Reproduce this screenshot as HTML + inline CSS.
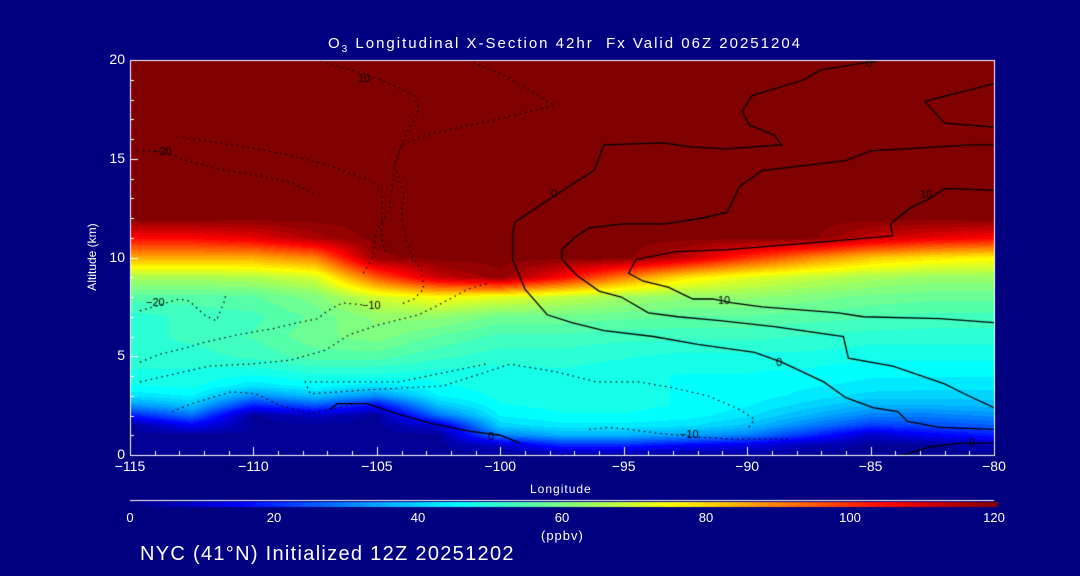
<!DOCTYPE html>
<html><head><meta charset="utf-8"><style>
html,body{margin:0;padding:0;background:#000080;}
#wrap{position:relative;width:1080px;height:576px;background:#000080;overflow:hidden;font-family:"Liberation Sans",sans-serif;color:#fff;}
canvas{position:absolute;left:0;top:0;}
.t{position:absolute;white-space:nowrap;color:#fff;}
</style></head><body>
<div id="wrap">
<canvas id="cv" width="1080" height="576"></canvas>
<div class="t" style="left:328px;top:35px;font-size:15px;letter-spacing:2px;">O<sub style="font-size:10px;">3</sub> Longitudinal X-Section 42hr&nbsp; Fx Valid 06Z 20251204</div>
<div class="t" style="left:52px;top:250px;font-size:12px;transform:rotate(-90deg);transform-origin:center;width:80px;text-align:center;">Altitude (km)</div>
<div class="t" style="left:530px;top:482px;font-size:12px;letter-spacing:1px;">Longitude</div>
<div class="t" style="left:541px;top:528px;font-size:13px;letter-spacing:1px;">(ppbv)</div>
<div class="t" style="left:140px;top:543px;font-size:20px;letter-spacing:1.3px;">NYC (41°N) Initialized 12Z 20251202</div>
<div id="labels"></div>
</div>
<script>
const lons=[-115,-112.5,-110,-107.5,-105,-102.5,-100,-97.5,-95,-92.5,-90,-87.5,-85,-82.5,-80];
const alts=[0,0.5,1,1.5,2,2.5,3,3.5,4,5,6,7,8,9,10,11,12,13,14,15,16,17,18,19,20];
const c0=[3,3,3,3,18,32,42,46,48,50,50,50,55,65,85,105,120,120,120,120,120,120,120,120,120];
const c1=[3,3,3,14,28,38,44,47,48,50,52,52,55,65,85,105,120,120,120,120,120,120,120,120,120];
const c2=[3,3,3,3,3,18,32,42,46,52,54,53,56,66,85,108,120,120,120,120,120,120,120,120,120];
const c3=[3,3,3,3,8,25,38,45,48,55,58,57,60,70,90,115,120,120,120,120,120,120,120,120,120];
const c4=[3,3,3,3,3,15,32,42,48,55,60,62,70,95,118,120,120,120,120,120,120,120,120,120,120];
const c5=[3,3,3,10,28,38,44,46,47,52,56,62,75,112,120,120,120,120,120,120,120,120,120,120,120];
const c6=[3,8,30,40,44,46,47,47,47,50,53,58,72,118,120,120,120,120,120,120,120,120,120,120,120];
const c7=[3,20,36,43,46,47,47,47,48,50,53,58,68,105,120,120,120,120,120,120,120,120,120,120,120];
const c8=[3,20,36,43,46,47,47,47,47,49,52,57,64,90,120,120,120,120,120,120,120,120,120,120,120];
const c9=[3,15,34,42,45,46,46,46,46,48,52,56,62,78,112,120,120,120,120,120,120,120,120,120,120];
const c10=[3,12,30,38,42,44,45,45,46,48,52,56,62,72,100,120,120,120,120,120,120,120,120,120,120];
const c11=[3,6,20,30,36,40,43,44,45,48,51,55,60,68,90,120,120,120,120,120,120,120,120,120,120];
const c12=[3,3,8,22,30,36,40,43,44,47,50,54,58,65,82,112,120,120,120,120,120,120,120,120,120];
const c13=[3,3,14,24,30,36,40,42,44,47,50,53,57,63,78,108,120,120,120,120,120,120,120,120,120];
const c14=[3,6,18,26,32,37,40,42,44,47,50,53,57,63,76,105,120,120,120,120,120,120,120,120,120];
const grid=[c0,c1,c2,c3,c4,c5,c6,c7,c8,c9,c10,c11,c12,c13,c14];
const xTicks=[-115,-110,-105,-100,-95,-90,-85,-80];
const xTickLabels=["\u2212115","\u2212110","\u2212105","\u2212100","\u221295","\u221290","\u221285","\u221280"];
const yTicks=[0,5,10,15,20];
const cbTicks=[0,20,40,60,80,100,120];
const ctrA=[[-84,20.1],[-85,19.9],[-87,19.5],[-87.7,19],[-89.8,18.2],[-90.2,17.4],[-89.9,16.7],[-88.9,16.2],[-88.6,15.7],[-90.9,15.5],[-92.3,15.6],[-93.4,15.8],[-95.8,15.7],[-96.2,14.4],[-97.1,13.7],[-97.7,13.2],[-99.4,11.8],[-99.5,11.2],[-99.5,9.9],[-99,8.4],[-98.1,7.1],[-97.1,6.7],[-95.8,6.3],[-93.8,6],[-92,5.6],[-89.7,5.2],[-88.6,4.7],[-86.9,3.7],[-86,2.9],[-84.9,2.4],[-83.9,2.2],[-83.5,1.7],[-82.2,1.4],[-80,1.3]];
const ctrC=[[-80,15.7],[-80.9,15.7],[-85,15.4],[-86,14.9],[-89.4,14.4],[-90.3,13.6],[-90.8,12.3],[-91.8,12],[-93.3,11.7],[-95,11.7],[-96.4,11.5],[-97,11],[-97.5,10.4],[-97.5,9.9],[-96.9,9.1],[-96,8.3],[-95.1,8],[-94,7.2],[-92.8,7],[-91.1,6.8],[-88.9,6.5],[-86.1,6],[-85.9,4.9],[-84.1,4.5],[-82,3.6],[-81.2,3.1],[-80,2.4]];
const ctrB=[[-80,13.4],[-82,13.5],[-82.6,13],[-83.4,12.5],[-84.2,11.7],[-84.1,11.1],[-86.8,10.8],[-90.8,10.4],[-92.9,10.3],[-94.5,9.9],[-94.8,9.2],[-94.2,8.8],[-93.2,8.5],[-92.2,7.9],[-91.4,7.9],[-90.6,7.7],[-89.4,7.5],[-86.3,7.2],[-85.3,7],[-82.2,6.9],[-80,6.7]];
const ctrD=[[-80,18.8],[-82.8,17.9],[-82,16.8],[-80,16.6]];
const ctrE=[[-83.7,0],[-82.6,0.4],[-81.4,0.6],[-80,0.6]];
const ctrF=[[-106.9,2.3],[-106.6,2.6],[-105.4,2.6],[-104.2,2.1],[-102.8,1.6],[-101.2,1.2],[-100,1],[-99.2,0.6]];
const dotP1=[[-107.7,20.1],[-106.3,19.6],[-105.5,19.3],[-104.9,19],[-104.1,18.6],[-103.5,18.2],[-103.3,17.6],[-103.4,17.2],[-103.9,16],[-104.3,14.7],[-104.1,14],[-103.9,13.2],[-104,12.2],[-103.9,11.4],[-103.6,10.1],[-103.2,9.4],[-103.1,8.4],[-103.5,7.9],[-104.1,7.6]];
const dotP2=[[-101.5,20.1],[-99.8,19.2],[-97.8,17.7],[-99.8,17.1],[-103,16.2],[-104,15.7],[-104.3,14.4],[-104.4,13.4],[-104.5,12.4],[-105,11.4],[-105.2,9.9],[-105.6,9.1]];
const dotP3=[[-113.1,16.1],[-111.9,15.9],[-110.3,15.6],[-108.6,15.2],[-107,14.7],[-106,14.2],[-105.2,13.9],[-104.8,13.4],[-104.8,12.2],[-104.8,10.9],[-104.6,10.1]];
const dotP4=[[-114.7,15.4],[-113.9,15.4],[-113.3,15.2],[-112.7,14.9],[-111.5,14.5],[-110,14.2],[-108.5,13.8],[-107.5,13.2]];
const dotQ1=[[-114.6,7.3],[-113.8,7.6],[-113,7.9],[-112.6,7.8],[-112,7.1],[-111.7,6.9],[-111.5,6.8],[-111.2,7.7],[-111.1,8.2]];
const dotQ3=[[-114.6,4.7],[-113.8,5.1],[-112.8,5.4],[-112,5.7],[-110.6,6.1],[-109.2,6.4],[-108.2,6.7],[-107.4,6.9],[-107,7.3],[-106.4,7.7],[-105.5,7.6]];
const dotQ4=[[-114.6,3.7],[-113.2,4.1],[-111.8,4.5],[-110.2,4.6],[-108.5,4.8],[-107.1,5.3],[-106.1,6.1],[-104.9,6.6],[-103.3,7.1],[-102.5,7.6],[-101.3,8.4],[-100.5,8.7]];
const dotQ6=[[-113.3,2.2],[-112.5,2.6],[-111.7,2.9],[-110.9,3.2],[-109.9,3.1],[-108.9,2.5],[-107.7,2.1],[-106.9,2.3],[-105.9,2.6]];
const dotQ7=[[-100.6,4.6],[-104.1,3.7],[-107.9,3.7],[-107.7,3.1],[-105.4,3.3],[-102.3,3.5],[-99.6,4.6],[-97.7,4.2],[-96.1,3.7],[-94.4,3.7],[-93,3.4],[-91.6,3],[-90.3,2.3],[-89.7,1.8],[-90,1.3]];
const dotQ8=[[-96.4,1.3],[-95.6,1.4],[-94.8,1.3],[-93.6,1.1],[-92,0.9],[-90.3,0.8],[-88.3,0.8]];

const X0=130,X1=994,Y0=60,Y1=455;
function xs(lon){return X0+(lon-(-115))/35*(X1-X0);}
function ys(a){return Y1-a/20*(Y1-Y0);}
function cmap(v){
  const t=Math.max(0,Math.min(1,v/120));
  const stops=[[0,0,0,128],[0.125,0,0,255],[0.375,0,255,255],[0.5,128,255,128],[0.625,255,255,0],[0.875,255,0,0],[1,128,0,0]];
  for(let i=1;i<stops.length;i++){ if(t<=stops[i][0]){const a=stops[i-1],b=stops[i];const f=(t-a[0])/(b[0]-a[0]);return [a[1]+(b[1]-a[1])*f,a[2]+(b[2]-a[2])*f,a[3]+(b[3]-a[3])*f];}}
  return [128,0,0];
}
function sample(lon,a){
  let fi=(lon-lons[0])/(lons[1]-lons[0]); fi=Math.max(0,Math.min(lons.length-1.0001,fi));
  const i=Math.floor(fi),u=fi-i;
  let j=0; while(j<alts.length-2 && a>alts[j+1]) j++;
  let w=(a-alts[j])/(alts[j+1]-alts[j]); w=Math.max(0,Math.min(1,w));
  const v00=grid[i][j],v10=grid[i+1][j],v01=grid[i][j+1],v11=grid[i+1][j+1];
  return (v00*(1-u)+v10*u)*(1-w)+(v01*(1-u)+v11*u)*w;
}
const cv=document.getElementById('cv');const ctx=cv.getContext('2d');
const W=X1-X0,H=Y1-Y0;
const img=ctx.createImageData(W,H);
for(let py=0;py<H;py++){const a=20-(py+0.5)/H*20;
 for(let px=0;px<W;px++){const lon=-115+(px+0.5)/W*35;
  let v=sample(lon,a); v=Math.round(v/2.5)*2.5; const c=cmap(v);
  const k=(py*W+px)*4; img.data[k]=c[0];img.data[k+1]=c[1];img.data[k+2]=c[2];img.data[k+3]=255;}}
ctx.putImageData(img,X0,Y0);
function line(pts,dash,lw){
  ctx.save();ctx.beginPath();ctx.rect(X0,Y0,W,H);ctx.clip();
  ctx.strokeStyle='#000';ctx.lineWidth=lw;ctx.setLineDash(dash);ctx.beginPath();
  pts.forEach((p,i)=>{const x=xs(p[0]),y=ys(p[1]);i?ctx.lineTo(x,y):ctx.moveTo(x,y);});
  ctx.stroke();ctx.restore();
}
[ctrA,ctrC,ctrB,ctrD,ctrE,ctrF].forEach(p=>line(p,[],1.3));
[dotP1,dotP2,dotP3,dotP4,dotQ1,dotQ3,dotQ4,dotQ6,dotQ7,dotQ8].forEach(p=>line(p,[1.5,4],1.2));
ctx.fillStyle='#000';ctx.font='11px "Liberation Sans",sans-serif';
[["0",866,67],["0",551,197],["10",920,198],["10",718,304],["0",776,366],["10",358,82],["\u221220",153,155],["\u221220",146,306],["\u221210",362,309],["\u221210",680,438],["0",488,440],["0",969,446]].forEach(l=>{ctx.fillText(l[0],l[1],l[2]);});
ctx.strokeStyle='#fff';ctx.lineWidth=1;ctx.setLineDash([]);
ctx.beginPath();ctx.moveTo(X0,Y0+0.5);ctx.lineTo(X1,Y0+0.5);ctx.moveTo(X0+0.5,Y0);ctx.lineTo(X0+0.5,Y1);ctx.moveTo(X0,Y1+0.5);ctx.lineTo(X1+1,Y1+0.5);ctx.moveTo(X1+0.5,Y0);ctx.lineTo(X1+0.5,Y1);ctx.stroke();
ctx.beginPath();
for(let l=-115;l<=-80;l++){const x=Math.round(xs(l))+0.5;const len=(l%5===0)?8:4;ctx.moveTo(x,Y1);ctx.lineTo(x,Y1-len);}
for(let a=0;a<=20;a++){const y=Math.round(ys(a))+0.5;const len=(a%5===0)?8:4;ctx.moveTo(X0,y);ctx.lineTo(X0+len,y);}
ctx.stroke();
ctx.beginPath();ctx.moveTo(130,500.5);ctx.lineTo(994,500.5);ctx.stroke();
for(let px=0;px<868;px++){const c=cmap(px/867*120);ctx.fillStyle=`rgb(${c[0]|0},${c[1]|0},${c[2]|0})`;ctx.fillRect(130+px,502,1,5);}
const lab=document.getElementById('labels');
function addLabel(txt,x,y,size,align,name){
  const d=document.createElement('div');d.className='t';
  
  
  d.style.fontSize=size+'px';d.style.top=y+'px';
  if(align==='c'){d.style.left=(x-60)+'px';d.style.width='120px';d.style.textAlign='center';}
  else{d.style.left=(x-60)+'px';d.style.width='60px';d.style.textAlign='right';}
  d.textContent=txt;lab.appendChild(d);
}
xTicks.forEach((v,i)=>addLabel(xTickLabels[i],xs(v),458,14,'c','x-tick-label'));
yTicks.forEach(v=>addLabel(String(v),125,ys(v)-9,14,'r','y-tick-label'));
cbTicks.forEach(v=>addLabel(String(v),130+v/120*864,510,13,'c','colorbar-tick-label'));
</script>
</body></html>
